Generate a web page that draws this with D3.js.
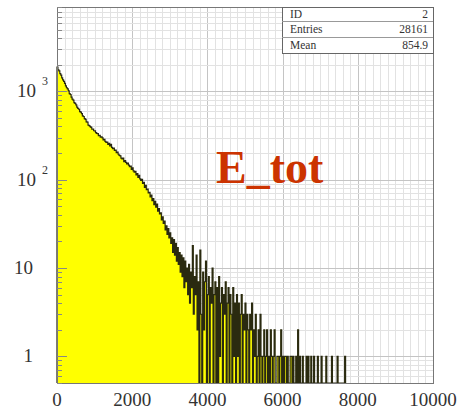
<!DOCTYPE html>
<html>
<head>
<meta charset="utf-8">
<script src="https://cdn.jsdelivr.net/npm/d3@7/dist/d3.min.js"></script>
<style>
  html, body { margin: 0; padding: 0; background: #fff; }
  svg { display: block; }
</style>
</head>
<body>
<svg id="chart" width="463" height="411"></svg>
<script>
// Energy histogram: 25-unit bins starting at 0 (ten bins per row)
const binWidth = 25;
const counts = [
  1885, 1752, 1701, 1583, 1524, 1419, 1348, 1297, 1230, 1151,
  1098, 1063, 1011, 944, 921, 861, 815, 795, 744, 729,
  702, 661, 640, 627, 590, 581, 560, 528, 519, 490,
  481, 452, 447, 415, 409, 399, 391, 372, 373, 358,
  356, 340, 334, 332, 316, 318, 303, 305, 298, 282,
  286, 271, 265, 267, 250, 258, 241, 251, 232, 224,
  227, 214, 216, 202, 205, 194, 188, 186, 175, 172,
  176, 160, 164, 157, 151, 154, 146, 140, 142, 131,
  136, 126, 122, 124, 113, 117, 106, 112, 102, 98,
  101, 91, 93, 82, 86, 77, 78, 71, 72, 64,
  67, 58, 61, 52, 57, 49, 53, 44, 47, 41,
  42, 35, 38, 32, 34, 27, 30, 24, 28, 22,
  25, 19, 22, 15, 21, 14, 19, 12, 17, 11,
  15, 9, 14, 8, 13, 6, 12, 7, 10, 5,
  11, 4, 9, 6, 18, 3, 8, 5, 14, 2,
  7, 0, 16, 3, 0, 9, 2, 7, 12, 0,
  5, 8, 0, 6, 4, 10, 0, 5, 7, 0,
  6, 0, 8, 1, 4, 6, 0, 5, 3, 7,
  0, 4, 6, 0, 5, 3, 0, 6, 1, 4,
  0, 5, 1, 4, 0, 3, 5, 0, 3, 2,
  4, 0, 3, 2, 0, 3, 2, 4, 0, 2,
  1, 3, 0, 1, 2, 0, 3, 1, 0, 1,
  2, 0, 1, 2, 0, 1, 0, 2, 1, 0,
  1, 2, 0, 0, 1, 1, 0, 1, 2, 0,
  1, 0, 1, 1, 0, 1, 0, 0, 1, 1,
  0, 1, 0, 0, 1, 0, 2, 0, 1, 0,
  0, 1, 0, 0, 0, 1, 0, 1, 0, 0,
  1, 0, 0, 1, 0, 0, 0, 1, 0, 0,
  0, 1, 0, 0, 0, 0, 1, 0, 0, 0,
  0, 0, 1, 0, 0, 0, 0, 0, 1, 0,
  0, 0, 0, 0, 0, 0, 1, 0, 0, 0
];

const xTicks = [0, 2000, 4000, 6000, 8000, 10000];
const yTicks = [1, 10, 100, 1000];
const yTickLabels = [["1", ""], ["10", ""], ["10", "2"], ["10", "3"]];

const statsRows = [["ID", "2"], ["Entries", "28161"], ["Mean", "854.9"]];
const title = "E_tot";

const frame = { left: 57, right: 433, top: 7, bottom: 383 };
const yMin = 0.5, yMax = 9000;

const svg = d3.select("#chart");
const x = d3.scaleLinear().domain([0, 10000]).range([frame.left, frame.right]);
const y = d3.scaleLog().domain([yMin, yMax]).range([frame.bottom, frame.top]);

// grid
const grid = svg.append("g");
const xMinor = d3.range(0, 10001, 200);
grid.selectAll("line.vx").data(xMinor).join("line")
  .attr("x1", d => Math.round(x(d)) + 0.5).attr("x2", d => Math.round(x(d)) + 0.5)
  .attr("y1", frame.top).attr("y2", frame.bottom)
  .attr("stroke", d => d % 2000 === 0 ? "#c4c4c4" : "#e2e2e2").attr("stroke-width", 1);

const yMinor = [];
for (let e = -1; e <= 3; e++) {
  for (let m = 1; m <= 9; m++) {
    const v = m * Math.pow(10, e);
    if (v >= yMin && v <= yMax) yMinor.push(v);
  }
}
grid.selectAll("line.hy").data(yMinor).join("line")
  .attr("x1", frame.left).attr("x2", frame.right)
  .attr("y1", d => Math.round(y(d)) + 0.5).attr("y2", d => Math.round(y(d)) + 0.5)
  .attr("stroke", d => yTicks.includes(d) ? "#c4c4c4" : "#e2e2e2").attr("stroke-width", 1);

// histogram
const pts = counts.map((v, i) => ({ x: i * binWidth, v }));
let last = counts.length - 1;
while (last > 0 && counts[last] === 0) last--;
const used = pts.slice(0, last + 1);
used.push({ x: (last + 1) * binWidth, v: 0 });
const yv = v => y(Math.max(v, yMin));

const area = d3.area()
  .x(d => x(d.x)).y0(y(yMin)).y1(d => yv(d.v))
  .curve(d3.curveStepAfter);
svg.append("path").datum(used).attr("d", area).attr("fill", "#ffff00");

const line = d3.line()
  .x(d => x(d.x)).y(d => yv(d.v))
  .curve(d3.curveStepAfter);
svg.append("path").datum([{ x: 0, v: 0 }].concat(used)).attr("d", line)
  .attr("fill", "none").attr("stroke", "#2a2a10").attr("stroke-width", 1.2);

// frame
svg.append("rect")
  .attr("x", frame.left + 0.5).attr("y", frame.top + 0.5)
  .attr("width", frame.right - frame.left).attr("height", frame.bottom - frame.top)
  .attr("fill", "none").attr("stroke", "#777").attr("stroke-width", 1);

// y ticks along left edge
svg.append("g").selectAll("line").data(yMinor).join("line")
  .attr("x1", frame.left).attr("x2", d => frame.left + (yTicks.includes(d) ? 10 : 5))
  .attr("y1", d => Math.round(y(d)) + 0.5).attr("y2", d => Math.round(y(d)) + 0.5)
  .attr("stroke", "#888").attr("stroke-width", 1);

// axis labels
const font = "'Liberation Serif', 'DejaVu Serif', serif";
svg.append("g").selectAll("text").data(xTicks).join("text")
  .attr("x", d => x(d)).attr("y", 406)
  .attr("text-anchor", "middle")
  .attr("font-family", font).attr("font-size", 19).attr("fill", "#333")
  .text(d => d);

const yl = svg.append("g").selectAll("g").data(yTicks).join("g");
yl.append("text")
  .attr("x", (d, i) => yTickLabels[i][1] ? 36 : 33)
  .attr("y", d => y(d) + 6)
  .attr("text-anchor", "end")
  .attr("font-family", font).attr("font-size", 19).attr("fill", "#333")
  .text((d, i) => yTickLabels[i][0]);
yl.append("text")
  .attr("x", 42).attr("y", d => y(d) - 6)
  .attr("font-family", font).attr("font-size", 12).attr("fill", "#333")
  .text((d, i) => yTickLabels[i][1]);

// stats box
const box = { x: 282, y: 7, w: 151, rows: [7, 21, 37, 53] };
svg.append("rect")
  .attr("x", box.x + 0.5).attr("y", box.y + 0.5)
  .attr("width", box.w).attr("height", box.rows[3] - box.y)
  .attr("fill", "#fff").attr("stroke", "#666").attr("stroke-width", 1);
svg.append("g").selectAll("line").data(box.rows.slice(1, 3)).join("line")
  .attr("x1", box.x).attr("x2", box.x + box.w)
  .attr("y1", d => d + 0.5).attr("y2", d => d + 0.5)
  .attr("stroke", "#999");
const sr = svg.append("g").selectAll("g").data(statsRows).join("g");
sr.append("text")
  .attr("x", 290).attr("y", (d, i) => (box.rows[i] + box.rows[i + 1]) / 2 + 4)
  .attr("font-family", font).attr("font-size", 11.5).attr("fill", "#333")
  .text(d => d[0]);
sr.append("text")
  .attr("x", 428).attr("y", (d, i) => (box.rows[i] + box.rows[i + 1]) / 2 + 4)
  .attr("text-anchor", "end")
  .attr("font-family", font).attr("font-size", 11.5).attr("fill", "#333")
  .text(d => d[1]);

// title
svg.append("text")
  .attr("x", 216).attr("y", 183)
  .attr("font-family", font).attr("font-size", 46).attr("font-weight", "bold")
  .attr("fill", "#cc3300")
  .text(title);
</script>
</body>
</html>
